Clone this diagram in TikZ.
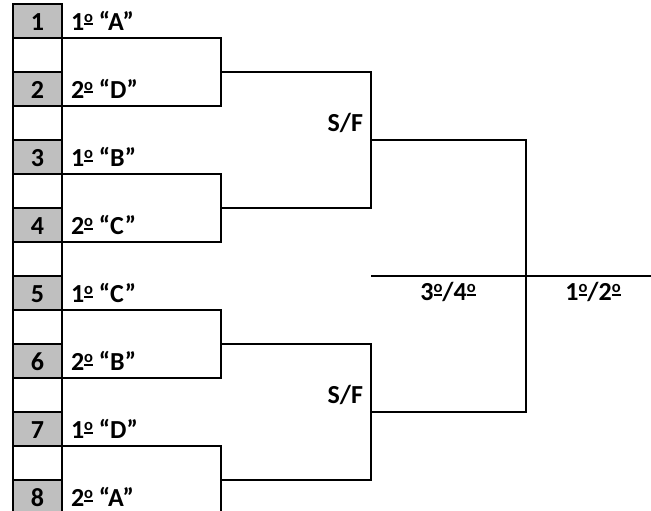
\documentclass[tikz,border=0pt]{standalone}
\usepackage{fontspec}
\setmainfont{Carlito}
\newcommand{\ordo}{\begingroup\setbox0\hbox{\fontsize{16.5}{16.5}\selectfont\bfseries o}\raisebox{5pt}{\vbox{\hbox{\copy0}\kern1.2pt\hrule height 2pt}}\endgroup}
\begin{document}
\begin{tikzpicture}[x=1pt,y=-1pt,line width=2pt,
  cellbox/.style={draw,minimum width=49pt,minimum height=34pt,inner sep=0pt,outer sep=0pt},
  graycell/.style={cellbox,fill=gray!50},
  txt/.style={font=\fontsize{26}{30}\selectfont\bfseries,inner sep=0pt,outer sep=0pt}]
\useasboundingbox (0,0) rectangle (651,511);
\clip (0,0) rectangle (651,511);
% white cells
\foreach \i in {1,...,7}{
  \node[cellbox] (w\i) at (37.5,{55+68*(\i-1)}) {};
}
% gray cells with numbers and labels
\foreach \i/\t in {1/1\ordo{} “A”,2/2\ordo{} “D”,3/1\ordo{} “B”,4/2\ordo{} “C”,5/1\ordo{} “C”,6/2\ordo{} “B”,7/1\ordo{} “D”,8/2\ordo{} “A”}{
  \node[graycell] (g\i) at (37.5,{21+68*(\i-1)}) {};
  \node[txt,anchor=base] (n\i) at (37.5,{30.5+68*(\i-1)}) {\i};
  \node[txt,anchor=base west] (l\i) at (71,{30.5+68*(\i-1)}) {\t};
}
% first round brackets
\foreach \p/\a/\b in {1/1/2,2/3/4,3/5/6,4/7/8}{
  \coordinate (b\p) at (221,{72+136*(\p-1)});
  \draw (g\a.south east) -| (b\p) |- (g\b.south east);
}
% semifinals
\coordinate (s1) at (371,140);
\coordinate (s2) at (371,412);
\draw (b1) -| (s1) |- (b2);
\draw (b3) -| (s2) |- (b4);
% final
\coordinate (f) at (526,276);
\coordinate (e) at (655,276);
\draw (s1) -| (f) |- (s2);
\draw (s1 |- f) -- (e);
% labels
\node[txt,anchor=base east] (sf1) at (363,131.5) {S/F};
\node[txt,anchor=base east] (sf2) at (363,403.5) {S/F};
\node[txt,anchor=base] (third) at (448,300.5) {3\ordo/4\ordo};
\node[txt,anchor=base] (first) at (593,300.5) {1\ordo/2\ordo};
\end{tikzpicture}
\end{document}
